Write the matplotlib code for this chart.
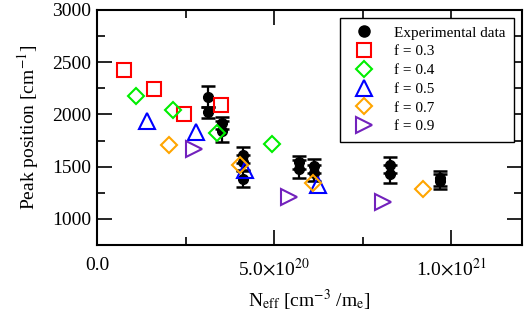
import matplotlib
matplotlib.use("Agg")
import matplotlib.pyplot as plt
from matplotlib.lines import Line2D
from matplotlib.ticker import MultipleLocator, FixedLocator, FixedFormatter

plt.rcParams['font.family'] = ['Liberation Serif', 'DejaVu Serif']
plt.rcParams['mathtext.fontset'] = 'stix'

# Experimental data
exp_x = [3.14e20, 3.14e20, 3.53e20, 3.53e20, 4.12e20, 4.12e20, 4.12e20,
         5.71e20, 5.71e20, 6.13e20, 6.13e20, 8.28e20, 8.28e20, 9.69e20, 9.69e20]
exp_y = [2170, 2020, 1920, 1840, 1615, 1540, 1385,
         1540, 1480, 1510, 1440, 1520, 1430, 1390, 1360]
exp_err = [100, 50, 60, 100, 77, 70, 77,
           66, 86, 67, 75, 76, 84, 72, 72]

# Model series
f03_x = [0.76e20, 1.61e20, 2.46e20, 3.50e20]
f03_y = [2423, 2240, 2000, 2087]
f04_x = [1.10e20, 2.15e20, 3.39e20, 4.94e20]
f04_y = [2173, 2038, 1827, 1721]
f05_x = [1.41e20, 2.80e20, 4.18e20, 6.24e20]
f05_y = [1940, 1835, 1470, 1325]
f07_x = [2.03e20, 4.04e20, 6.10e20, 9.21e20]
f07_y = [1712, 1519, 1346, 1288]
f09_x = [2.74e20, 5.42e20, 8.08e20]
f09_y = [1673, 1212, 1163]

xtick_vals = [0.0, 5.0e20, 1.0e21]
xtick_labels = ['0.0', r'5.0$\times$10$^{20}$', r'1.0$\times$10$^{21}$']

fig = plt.figure(figsize=(5.25, 3.23), dpi=100)
ax = fig.add_axes([97/525, 1 - 245/323, (522-97)/525, (245-10)/323])

ax.errorbar(exp_x, exp_y, yerr=exp_err, fmt='o', color='black', ms=7,
            elinewidth=1.6, capsize=5, capthick=1.8, zorder=2)
mew = 1.5
h = [Line2D([], [], ls='none', marker='o', color='black', ms=8)]
h += ax.plot(f03_x, f03_y, 's', mfc='none', mec='#ff0000', mew=mew, ms=9.5, zorder=3)
h += ax.plot(f04_x, f04_y, 'D', mfc='none', mec='#00ee00', mew=mew, ms=8.5, zorder=3)
h += ax.plot(f05_x, f05_y, '^', mfc='none', mec='#0000ff', mew=mew, ms=11, zorder=3)
h += ax.plot(f07_x, f07_y, 'D', mfc='none', mec='#ffa500', mew=mew, ms=8.5, zorder=3)
h += ax.plot(f09_x, f09_y, '>', mfc='none', mec='#7221bc', mew=mew, ms=11, zorder=3)
labels = ['Experimental data', 'f = 0.3', 'f = 0.4', 'f = 0.5', 'f = 0.7', 'f = 0.9']

ax.set_xlim(0, 1.2e21)
ax.set_ylim(750, 3000)
ax.xaxis.set_major_locator(FixedLocator(xtick_vals))
ax.xaxis.set_major_formatter(FixedFormatter(xtick_labels))
ax.xaxis.set_minor_locator(MultipleLocator(2.5e20))
ax.yaxis.set_major_locator(MultipleLocator(500))
ax.yaxis.set_minor_locator(MultipleLocator(250))
ax.tick_params(which='both', direction='in', top=True, right=True, width=1.2, labelsize=14)
ax.tick_params(which='major', length=11)
ax.tick_params(which='minor', length=5.5)
ax.tick_params(axis='x', pad=9)
ax.tick_params(axis='y', pad=4)
for s in ax.spines.values():
    s.set_linewidth(1.5)

ax.set_ylabel(r'Peak position [cm$^{-1}$]', fontsize=14, labelpad=8)
ax.set_xlabel(r'N$_{\mathrm{eff}}$ [cm$^{-3}$ /m$_{\mathrm{e}}$]', fontsize=14, labelpad=6)

leg = ax.legend(h, labels, loc='upper right', fontsize=11, frameon=True, fancybox=False,
                edgecolor='black', framealpha=1, labelspacing=0.33,
                borderpad=0.55, handletextpad=1.0, numpoints=1)
leg.get_frame().set_linewidth(1.0)

fig.savefig('out.png', dpi=100)
